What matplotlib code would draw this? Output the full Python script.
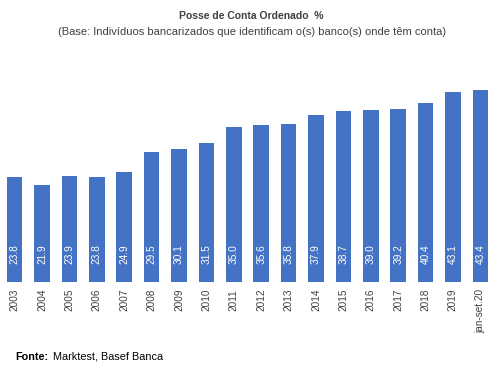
import matplotlib.pyplot as plt
import numpy as np

# dados
anos = ["2003", "2004", "2005", "2006", "2007", "2008", "2009", "2010", "2011",
        "2012", "2013", "2014", "2015", "2016", "2017", "2018", "2019", "jan-set.20"]
valores = [23.8, 21.9, 23.9, 23.8, 24.9, 29.5, 30.1, 31.5, 35.0,
           35.6, 35.8, 37.9, 38.7, 39.0, 39.2, 40.4, 43.1, 43.4]

plt.rcParams['font.family'] = ['Liberation Sans', 'DejaVu Sans']

fig = plt.figure(figsize=(4.97, 3.68), dpi=100)
ax = fig.add_axes([0.002, 0.234, 0.992, 0.60])

x = np.arange(len(anos))
ax.bar(x, valores, width=0.57, color="#4472C4")

for xi, v in zip(x, valores):
    ax.text(xi, 4.0, f"{v:.1f}", rotation=90, ha="center", va="bottom",
            color="white", fontsize=7.3)

ax.set_xlim(-0.5, len(anos) - 0.5)
ax.set_ylim(0, 50)
ax.set_xticks(x)
ax.set_xticklabels(anos, rotation=90, fontsize=7.2, color="#404040")
ax.tick_params(axis="x", length=0, pad=5)
ax.set_yticks([])
for s in ax.spines.values():
    s.set_visible(False)

fig.text(0.505, 0.957, "Posse de Conta Ordenado  %", ha="center", va="center",
         fontsize=7.5, fontweight="bold", color="#404040")
fig.text(0.508, 0.914, "(Base: Indivíduos bancarizados que identificam o(s) banco(s) onde têm conta)",
         ha="center", va="center", fontsize=8, color="#404040")

fig.text(0.03, 0.03, "Fonte:", ha="left", va="center", fontsize=7.8,
         fontweight="bold", color="black")
fig.text(0.107, 0.03, "Marktest, Basef Banca", ha="left", va="center",
         fontsize=7.8, color="black")

fig.savefig("out.png", dpi=100)
